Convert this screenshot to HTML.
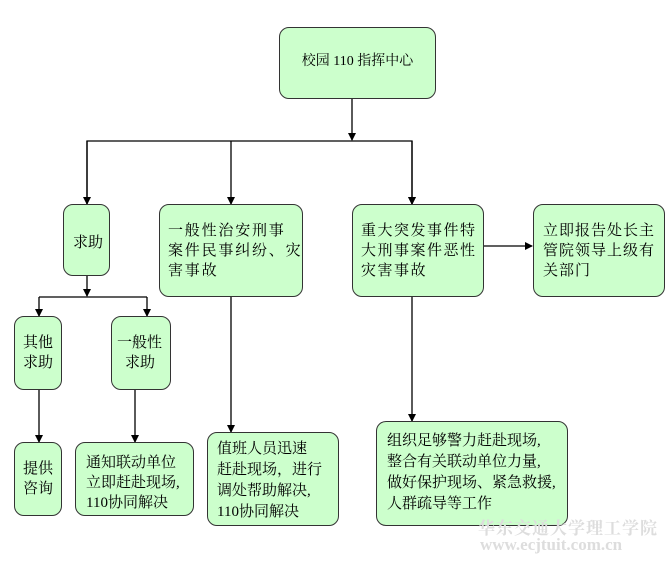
<!DOCTYPE html>
<html><head><meta charset="utf-8"><style>
body{margin:0;width:669px;height:562px;background:#fff;position:relative;overflow:hidden;font-family:"Liberation Serif","Noto Serif CJK SC","Noto Sans CJK SC",serif;}
.b{position:absolute;box-sizing:border-box;background:#ccffcc;border:1.5px solid #333;border-radius:10px;font-size:15px;line-height:20px;color:#000;}
.t{position:absolute;white-space:nowrap;}
svg{position:absolute;left:0;top:0;}
</style></head><body>
<svg width="669" height="562">
<defs><marker id="a" markerWidth="8" markerHeight="8" refX="7" refY="4" orient="auto" markerUnits="userSpaceOnUse"><path d="M0,0 L8,4 L0,8 z" fill="#000"/></marker></defs>
<g stroke="#000" stroke-width="1.3" fill="none">
<line x1="352" y1="99" x2="352" y2="140" marker-end="url(#a)"/>
<polyline points="87,204 87,141 412,141 412,204" marker-end="url(#a)"/>
<line x1="87" y1="141" x2="87" y2="204" marker-end="url(#a)"/>
<line x1="231" y1="141" x2="231" y2="204" marker-end="url(#a)"/>
<line x1="412" y1="141" x2="412" y2="204" marker-end="url(#a)"/>
<line x1="484" y1="246" x2="532" y2="246" marker-end="url(#a)"/>
<line x1="87" y1="276" x2="87" y2="296" marker-end="url(#a)"/>
<line x1="39" y1="297" x2="147" y2="297"/>
<line x1="39" y1="297" x2="39" y2="316" marker-end="url(#a)"/>
<line x1="147" y1="297" x2="147" y2="316" marker-end="url(#a)"/>
<line x1="39" y1="390" x2="39" y2="442" marker-end="url(#a)"/>
<line x1="135" y1="390" x2="135" y2="442" marker-end="url(#a)"/>
<line x1="231" y1="297" x2="231" y2="432" marker-end="url(#a)"/>
<line x1="412" y1="297" x2="412" y2="421" marker-end="url(#a)"/>
</g></svg>
<div class="b" style="left:279px;top:27px;width:157px;height:72px;font-size:14px;"><div class="t" style="left:0;right:0;top:24px;text-align:center;">校园 110 指挥中心</div></div>
<div class="b" style="left:63px;top:204px;width:47px;height:72px;"><div class="t" style="left:9px;top:28px;">求助</div></div>
<div class="b" style="left:159px;top:204px;width:144px;height:93px;letter-spacing:1.8px;"><div class="t" style="left:8px;top:16px;">一般性治安刑事<br>案件民事纠纷、灾<br>害事故</div></div>
<div class="b" style="left:352px;top:204px;width:132px;height:93px;letter-spacing:1.5px;"><div class="t" style="left:8px;top:16px;">重大突发事件特<br>大刑事案件恶性<br>灾害事故</div></div>
<div class="b" style="left:533px;top:204px;width:132px;height:93px;letter-spacing:1px;"><div class="t" style="left:9px;top:16px;">立即报告处长主<br>管院领导上级有<br>关部门</div></div>
<div class="b" style="left:14px;top:316px;width:48px;height:74px;"><div class="t" style="left:8px;top:16px;">其他<br>求助</div></div>
<div class="b" style="left:111px;top:316px;width:60px;height:74px;"><div class="t" style="left:5px;top:16px;">一般性<br><span style="padding-left:8px">求助</span></div></div>
<div class="b" style="left:14px;top:442px;width:48px;height:74px;"><div class="t" style="left:8px;top:16px;">提供<br>咨询</div></div>
<div class="b" style="left:75px;top:442px;width:119px;height:74px;"><div class="t" style="left:10px;top:10px;">通知联动单位<br>立即赶赴现场,<br>110协同解决</div></div>
<div class="b" style="left:207px;top:432px;width:132px;height:94px;"><div class="t" style="left:9px;top:6px;line-height:21px;">值班人员迅速<br>赶赴现场，进行<br>调处帮助解决,<br>110协同解决</div></div>
<div class="b" style="left:376px;top:421px;width:192px;height:105px;"><div class="t" style="left:10px;top:9px;line-height:21px;">组织足够警力赶赴现场,<br>整合有关联动单位力量,<br>做好保护现场、紧急救援,<br>人群疏导等工作</div></div>
<div class="t" style="left:478px;top:514px;font-size:17px;color:#ddd;font-weight:bold;letter-spacing:1px;">华东交通大学理工学院</div>
<div class="t" style="left:480px;top:535px;font-size:17px;color:#ddd;font-weight:bold;">www.ecjtuit.com.cn</div>
</body></html>
